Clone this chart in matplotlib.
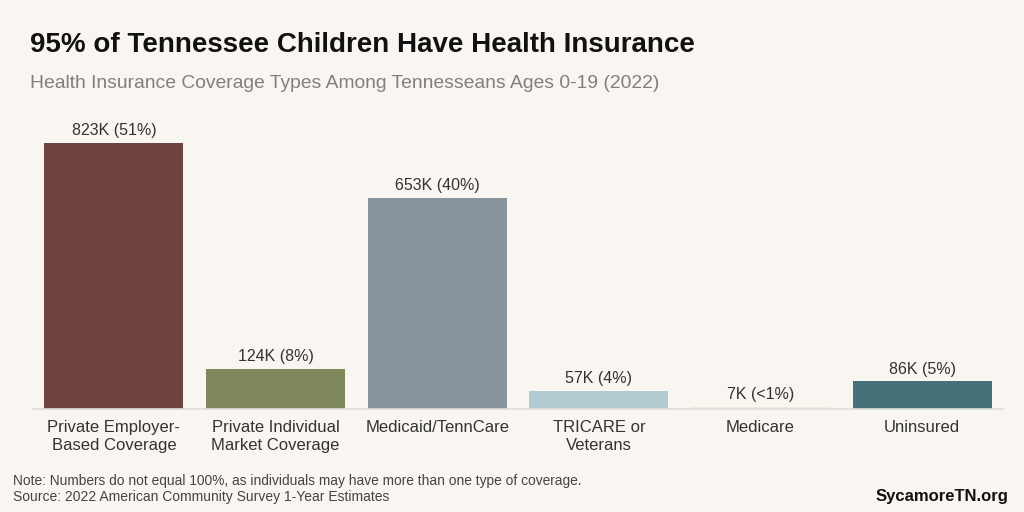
import matplotlib.pyplot as plt

categories = ['Private Employer-\nBased Coverage', 'Private Individual\nMarket Coverage',
              'Medicaid/TennCare', 'TRICARE or\nVeterans', 'Medicare', 'Uninsured']
values = [823, 124, 653, 57, 7, 86]
value_labels = ['823K (51%)', '124K (8%)', '653K (40%)', '57K (4%)', '7K (<1%)', '86K (5%)']
colors = ['#6f4340', '#7e885a', '#87929b', '#afcbd0', '#f2e8dc', '#46717a']

bg = '#f9f5f1'
plt.rcParams['font.family'] = ['Liberation Sans', 'DejaVu Sans']

fig = plt.figure(figsize=(10.24, 5.12), dpi=100, facecolor=bg)
ax = fig.add_axes([33 / 1024, 1 - 409 / 512, 970 / 1024, 299 / 512])
ax.set_facecolor(bg)

x = range(len(categories))
bars = ax.bar(x, values, width=0.86, color=colors)
ax.set_xlim(-0.5, 5.5)
ax.set_ylim(0, 823 * 299 / 266)

for b, lab in zip(bars, value_labels):
    ax.text(b.get_x() + b.get_width() / 2, b.get_height() + 14, lab,
            ha='center', va='bottom', fontsize=11.5, color='#333333')

ax.set_xticks(list(x))
ax.set_xticklabels(categories, fontsize=12, color='#333333', linespacing=1.25)
ax.tick_params(axis='x', length=0, pad=8)
ax.set_yticks([])
for s in ['top', 'right', 'left']:
    ax.spines[s].set_visible(False)
ax.spines['bottom'].set_color('#dddddd')
ax.spines['bottom'].set_linewidth(1.2)

fig.text(30 / 1024, 1 - 45 / 512, '95% of Tennessee Children Have Health Insurance',
         fontsize=20, fontweight='bold', color='#111111', va='center')
fig.text(30 / 1024, 1 - 83 / 512, 'Health Insurance Coverage Types Among Tennesseans Ages 0-19 (2022)',
         fontsize=13.9, color='#808080', va='center')
fig.text(13 / 1024, 1 - 481 / 512,
         'Note: Numbers do not equal 100%, as individuals may have more than one type of coverage.',
         fontsize=9.9, color='#444444', va='center')
fig.text(13 / 1024, 1 - 497 / 512, 'Source: 2022 American Community Survey 1-Year Estimates',
         fontsize=10, color='#444444', va='center')
fig.text(1008 / 1024, 1 - 497 / 512, 'SycamoreTN.org', fontsize=12, fontweight='bold',
         color='#111111', ha='right', va='center')

fig.savefig('out.png', dpi=100, facecolor=bg)
